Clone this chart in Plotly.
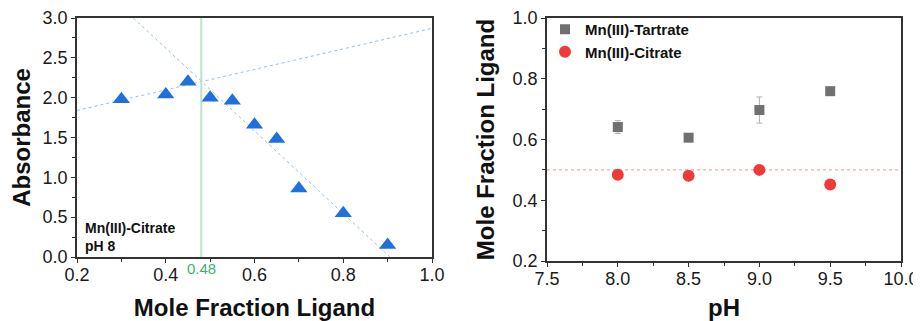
import plotly.graph_objects as go

# Left panel: Job plot data
mole_frac = [0.30, 0.40, 0.45, 0.50, 0.55, 0.60, 0.65, 0.70, 0.80, 0.90]
absorbance = [1.98, 2.04, 2.20, 2.00, 1.96, 1.66, 1.48, 0.86, 0.55, 0.15]
fit1_x = [0.2, 1.0]
fit1_y = [1.84, 2.87]
fit2_x = [0.327, 0.905]
fit2_y = [3.0, 0.0]
intersect_x = 0.48

# Right panel data
ph = [8.0, 8.5, 9.0, 9.5]
tartrate = [0.641, 0.606, 0.697, 0.759]
tartrate_err = [0.021, 0.0, 0.043, 0.0]
citrate = [0.484, 0.481, 0.500, 0.452]
ref_line_x = [7.5, 10.0]
ref_line_y = [0.5, 0.5]

FONT = "Arial, Liberation Sans, sans-serif"
PAGE_W, PAGE_H = 921, 321
OFF = 8  # default body margin of the html page
W, H = PAGE_W - OFF, PAGE_H - OFF


def fx(px):
    return (px - OFF) / W


def fy(py):
    return (PAGE_H - py) / H


fig = go.Figure()

fig.add_trace(go.Scatter(x=fit1_x, y=fit1_y, mode="lines",
                         line=dict(color="#95bdf0", width=1, dash="dot"),
                         showlegend=False, xaxis="x", yaxis="y"))
fig.add_trace(go.Scatter(x=fit2_x, y=fit2_y, mode="lines",
                         line=dict(color="#95bdf0", width=1, dash="dot"),
                         showlegend=False, xaxis="x", yaxis="y"))
fig.add_trace(go.Scatter(x=[intersect_x, intersect_x], y=[0, 3], mode="lines",
                         line=dict(color="#bde3cc", width=2),
                         showlegend=False, xaxis="x", yaxis="y"))
fig.add_trace(go.Scatter(x=mole_frac, y=absorbance, mode="markers",
                         marker=dict(symbol="triangle-up", size=15, color="#1f6fde"),
                         showlegend=False, xaxis="x", yaxis="y"))

fig.add_trace(go.Scatter(x=ref_line_x, y=ref_line_y, mode="lines",
                         line=dict(color="#f59090", width=1, dash="dot"),
                         showlegend=False, xaxis="x2", yaxis="y2"))
fig.add_trace(go.Scatter(x=ph, y=tartrate, mode="markers", name="<b>Mn(III)-Tartrate</b>",
                         marker=dict(symbol="square", size=10, color="#707070"),
                         error_y=dict(type="data", array=tartrate_err, color="#b0b0b0",
                                      thickness=1, width=3),
                         xaxis="x2", yaxis="y2"))
fig.add_trace(go.Scatter(x=ph, y=citrate, mode="markers", name="<b>Mn(III)-Citrate</b>",
                         marker=dict(symbol="circle", size=12, color="#f03a3a"),
                         xaxis="x2", yaxis="y2"))

axis_common = dict(showline=True, linecolor="#333333", linewidth=1.5, mirror=True,
                   ticks="outside", ticklen=4, tickwidth=1, tickcolor="#333333",
                   showgrid=False, zeroline=False, automargin=False,
                   tickfont=dict(family=FONT, size=18, color="#1a1a1a"))
title_font = dict(family=FONT, size=24, color="#111111")

fig.update_layout(
    width=W, height=H,
    margin=dict(l=0, r=0, t=0, b=0),
    paper_bgcolor="white", plot_bgcolor="white",
    font=dict(family=FONT),
    xaxis=dict(domain=[fx(77), fx(432)], anchor="y", range=[0.2, 1.0],
               tickvals=[0.2, 0.4, 0.6, 0.8, 1.0], ticktext=["0.2", "0.4", "0.6", "0.8", "1.0"],
               minor=dict(dtick=0.1, ticklen=3, ticks="outside", tickcolor="#333333"),
               ticklabelstandoff=-3,
               title=dict(text="<b>Mole Fraction Ligand</b>", font=title_font, standoff=19),
               **axis_common),
    yaxis=dict(domain=[fy(257), fy(18)], anchor="x", range=[0, 3.0],
               tickvals=[0, 0.5, 1.0, 1.5, 2.0, 2.5, 3.0],
               ticktext=["0.0", "0.5", "1.0", "1.5", "2.0", "2.5", "3.0"],
               minor=dict(dtick=0.25, ticklen=3, ticks="outside", tickcolor="#333333"),
               title=dict(text="<b>Absorbance</b>", font=title_font, standoff=9),
               **axis_common),
    xaxis2=dict(domain=[fx(547), fx(901)], anchor="y2", range=[7.5, 10.0],
                tickvals=[7.5, 8.0, 8.5, 9.0, 9.5, 10.0],
                ticktext=["7.5", "8.0", "8.5", "9.0", "9.5", "10.0"],
                minor=dict(dtick=0.25, ticklen=3, ticks="outside", tickcolor="#333333"),
                ticklabelstandoff=-3,
                title=dict(text="<b>pH</b>", font=title_font, standoff=17),
                **axis_common),
    yaxis2=dict(domain=[fy(261), fy(18)], anchor="x2", range=[0.2, 1.0],
                tickvals=[0.2, 0.4, 0.6, 0.8, 1.0], ticktext=["0.2", "0.4", "0.6", "0.8", "1.0"],
                minor=dict(dtick=0.1, ticklen=3, ticks="outside", tickcolor="#333333"),
                title=dict(text="<b>Mole Fraction Ligand</b>", font=title_font, standoff=11),
                **axis_common),
    legend=dict(x=fx(545), y=fy(13), xanchor="left", yanchor="top",
                bgcolor="rgba(0,0,0,0)", borderwidth=0,
                font=dict(family=FONT, size=15, color="#111111"), tracegroupgap=0),
    annotations=[
        dict(x=0.2135, y=0.257, xref="x", yref="y", xanchor="left", yanchor="middle",
             text="<b>Mn(III)-Citrate</b><br><b>pH 8</b>", showarrow=False, align="left",
             font=dict(family=FONT, size=14, color="#111111")),
        dict(x=intersect_x, y=0, xref="x", yref="y", xanchor="center", yanchor="top",
             yshift=-1, text="0.48", showarrow=False,
             font=dict(family=FONT, size=15, color="#3cb36b")),
    ],
)

fig.write_html("out.html")
